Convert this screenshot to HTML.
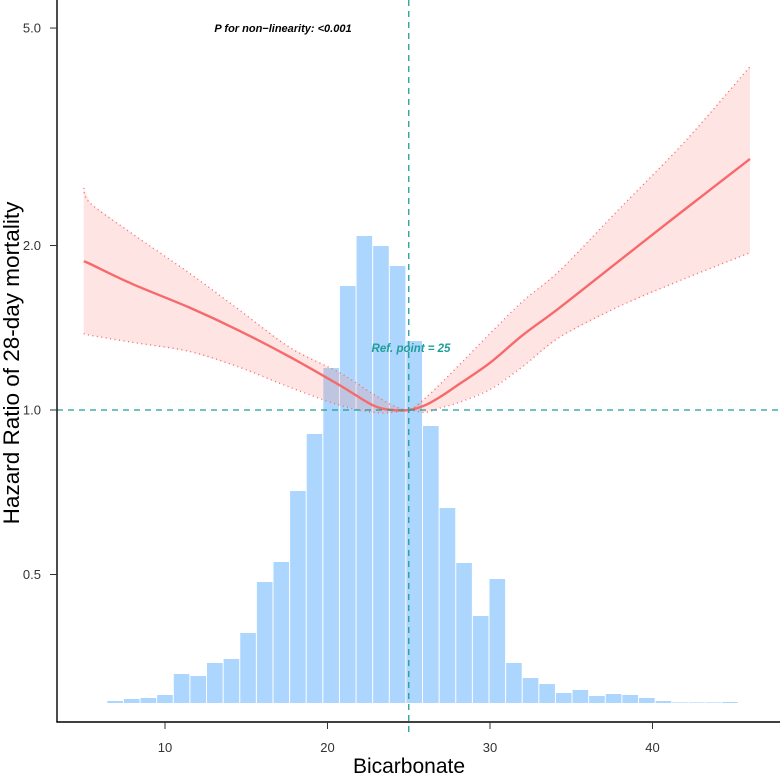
<!DOCTYPE html>
<html><head><meta charset="utf-8"><style>
body{margin:0;background:#fff}
svg{display:block;font-family:"Liberation Sans",Arial,sans-serif}
</style></head><body>
<svg id="chart" width="780" height="781" viewBox="0 0 780 781" xmlns="http://www.w3.org/2000/svg">
<g id="hist"></g>
<g id="band"></g>
<g id="axes"></g>
<text x="409" y="773" text-anchor="middle" font-size="21" fill="#000">Bicarbonate</text>
<text transform="translate(19,363) rotate(-90)" text-anchor="middle" font-size="22.5" fill="#000">Hazard Ratio of 28-day mortality</text>
<text x="283" y="32" text-anchor="middle" font-size="11" font-weight="bold" font-style="italic" fill="#000">P for non−linearity: &lt;0.001</text>
<text x="411" y="352" text-anchor="middle" font-size="11.5" font-weight="bold" font-style="italic" fill="#1f9d9a">Ref. point = 25</text>
</svg>
<script>
const histCounts=[2,4,5,8,29,27,40,44,70,121,141,212,269,335,417,467,457,437,362,277,195,140,87,124,40,25,19,10,13,7,9,8,5,2,0.6,0.6,0.6,1];
const histStart=6.42, histBinWidth=1.0225;
const curveX=[5,5.4,8,11.5,14.5,17.7,20.75,22.8,24,25,26,27,28,30,32,34.3,38,42,46];
const curveHR=[1.87,1.85,1.7,1.54,1.40,1.25,1.11,1.02,1.0,1.0,1.02,1.06,1.11,1.22,1.37,1.54,1.88,2.33,2.88];
const curveUpper=[2.55,2.39,2.1,1.78,1.53,1.30,1.17,1.07,1.02,1.0,1.05,1.12,1.2,1.38,1.58,1.80,2.34,3.1,4.25];
const curveLower=[1.38,1.37,1.33,1.28,1.2,1.10,1.02,0.99,0.99,1.0,0.99,1.01,1.03,1.09,1.2,1.36,1.55,1.74,1.94];
const xTicks=[10,20,30,40];
const yTicks=[0.5,1.0,2.0,5.0];
const refX=25, refY=1.0;

const NS="http://www.w3.org/2000/svg";
const xs=v=>165+(v-10)*16.25;
const ys=v=>410-164.5*Math.log2(v);
const base=703, countScale=1;
const hy=c=>base-c*countScale;
function mk(tag,attrs,parent){const e=document.createElementNS(NS,tag);for(const k in attrs)e.setAttribute(k,attrs[k]);parent.appendChild(e);return e;}
function smooth(vals){
  const p=curveX.map((x,i)=>[xs(x),ys(vals[i])]);
  let d='M'+p[0][0]+','+p[0][1];
  for(let i=0;i<p.length-1;i++){
    const p0=p[Math.max(0,i-1)],p1=p[i],p2=p[i+1],p3=p[Math.min(p.length-1,i+2)];
    const c1=[p1[0]+(p2[0]-p0[0])/6,p1[1]+(p2[1]-p0[1])/6];
    const c2=[p2[0]-(p3[0]-p1[0])/6,p2[1]-(p3[1]-p1[1])/6];
    d+=' C'+c1[0]+','+c1[1]+' '+c2[0]+','+c2[1]+' '+p2[0]+','+p2[1];
  }
  return d;
}
const hist=document.getElementById('hist'),band=document.getElementById('band'),axes=document.getElementById('axes');

histCounts.forEach((c,i)=>{
  const x0=xs(histStart+i*histBinWidth),x1=xs(histStart+(i+1)*histBinWidth);
  const r=mk('rect',{x:x0+0.5,y:hy(c),width:x1-x0-1,height:base-hy(c),fill:'#acd6fd'},hist);
  
  
});

let poly=curveX.map((x,i)=>xs(x)+','+ys(curveUpper[i])).join(' ')+' '+curveX.map((x,i)=>xs(x)+','+ys(curveLower[i])).reverse().join(' ');
const area=mk('polygon',{points:poly,fill:'#fb8a80','fill-opacity':'0.22'},band);


const up=mk('path',{d:smooth(curveUpper),fill:'none',stroke:'#f8696b','stroke-width':1.4,'stroke-dasharray':'1 3.5'},band);


const lo=mk('path',{d:smooth(curveLower),fill:'none',stroke:'#f8696b','stroke-width':1.4,'stroke-dasharray':'1 3.5'},band);


const ln=mk('path',{d:smooth(curveHR),fill:'none',stroke:'#f8696b','stroke-width':2.4,'stroke-linejoin':'round'},band);



const hr=mk('line',{x1:57,x2:780,y1:ys(refY),y2:ys(refY),stroke:'#1f9d9a','stroke-width':1.3,'stroke-dasharray':'6 5'},axes);


const vr=mk('line',{x1:xs(refX),x2:xs(refX),y1:0,y2:735,stroke:'#1f9d9a','stroke-width':1.3,'stroke-dasharray':'6 5'},axes);



const ya=mk('line',{x1:57,x2:57,y1:0,y2:722,stroke:'#000','stroke-width':1.4},axes);


const xa=mk('line',{x1:56.3,x2:780,y1:722,y2:722,stroke:'#000','stroke-width':1.4},axes);



xTicks.forEach(t=>{
  const tk=mk('line',{x1:xs(t),x2:xs(t),y1:722,y2:729,stroke:'#333'},axes);
  
  
  const tl=mk('text',{x:xs(t),y:752,'text-anchor':'middle','font-size':13,fill:'#333'},axes);
  tl.textContent=t;
  
  
});
yTicks.forEach(t=>{
  const tk=mk('line',{x1:50,x2:57,y1:ys(t),y2:ys(t),stroke:'#333'},axes);
  
  
  const tl=mk('text',{x:41,y:ys(t)+4.5,'text-anchor':'end','font-size':13,fill:'#333'},axes);
  tl.textContent=t.toFixed(1);
  
  
});
</script>
</body></html>
